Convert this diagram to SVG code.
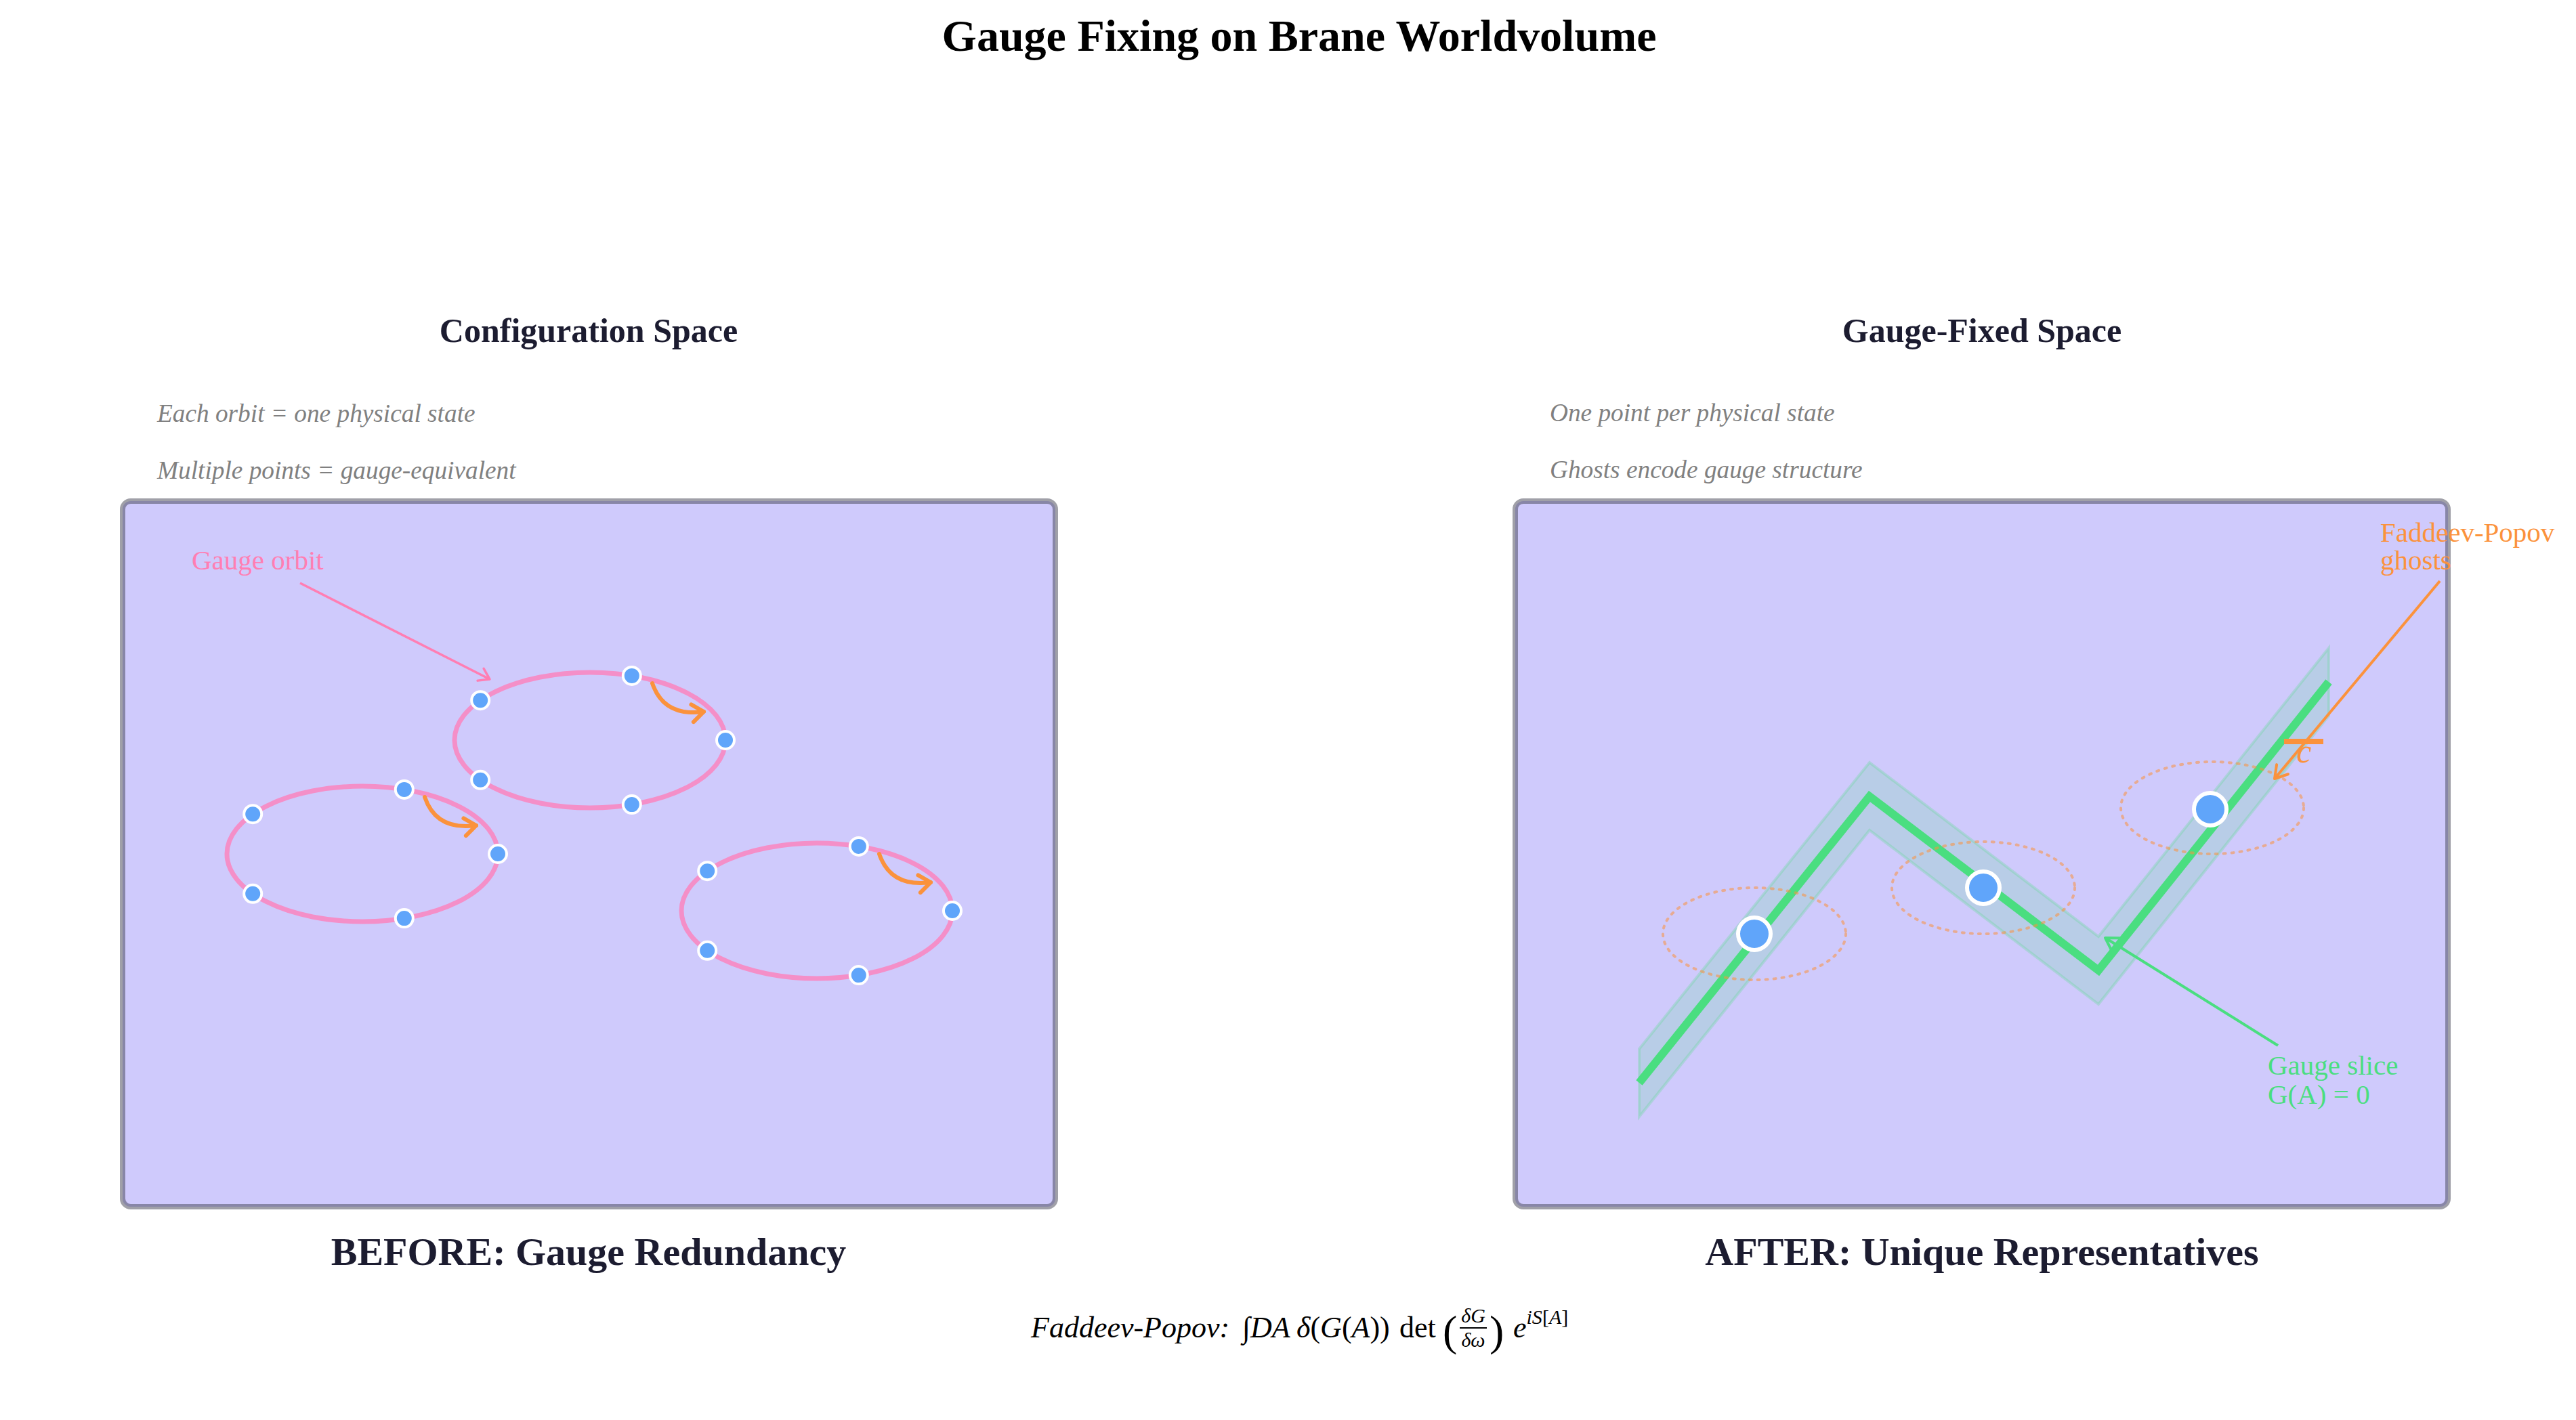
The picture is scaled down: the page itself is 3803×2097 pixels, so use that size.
<svg xmlns="http://www.w3.org/2000/svg" width="3803" height="2097" viewBox="0 0 3803 2097">
<style>
  .title{font-family:"Liberation Serif",serif;font-weight:bold;font-size:66px;fill:#000}
  .ptitle{font-family:"Liberation Serif",serif;font-weight:bold;font-size:50px;fill:#1c1c30}
  .blabel{font-family:"Liberation Serif",serif;font-weight:bold;font-size:58px;fill:#1c1c30}
  .sub{font-family:"Liberation Serif",serif;font-style:italic;font-size:37.3px;fill:#808080}
  .panel{fill:#cfcafc;stroke:#414151;stroke-opacity:0.5;stroke-width:8}
  .orbit{fill:none;stroke:#f48fc8;stroke-width:7}
  .pt{fill:#60a5fa;stroke:#fff;stroke-width:4}
  .bigpt{fill:#60a5fa;stroke:#fff;stroke-width:6}
  .flow{fill:none;stroke:#fb923c;stroke-width:6;stroke-linecap:round}
  .ghostorb{fill:none;stroke:#fb923c;stroke-opacity:0.55;stroke-width:4;stroke-dasharray:3 9;stroke-linecap:round}
  .lbl{font-family:"Liberation Serif",serif;font-size:41px}
  .math{font-family:"Liberation Serif",serif;fill:#000}
</style>
<defs>
  <marker id="ahOrange" markerUnits="userSpaceOnUse" viewBox="-22 -17 26 34" refX="0" refY="0" markerWidth="26" markerHeight="34" orient="auto">
    <path d="M-17,-13 L0,0 L-17,13" fill="none" stroke="#fb923c" stroke-width="6" stroke-linecap="round" stroke-linejoin="round"/>
  </marker>
  <marker id="ahPink" markerUnits="userSpaceOnUse" viewBox="-20 -14 24 28" refX="0" refY="0" markerWidth="24" markerHeight="28" orient="auto">
    <path d="M-15,-10 L0,0 L-15,10" fill="none" stroke="#ff7eb3" stroke-width="3.5" stroke-linecap="round" stroke-linejoin="round"/>
  </marker>
  <marker id="ahGreen" markerUnits="userSpaceOnUse" viewBox="-24 -16 28 32" refX="0" refY="0" markerWidth="28" markerHeight="32" orient="auto">
    <path d="M-18,-11 L0,0 L-18,11" fill="none" stroke="#4ade80" stroke-width="4" stroke-linecap="round" stroke-linejoin="round"/>
  </marker>
  <marker id="ahGhost" markerUnits="userSpaceOnUse" viewBox="-24 -16 28 32" refX="0" refY="0" markerWidth="28" markerHeight="32" orient="auto">
    <path d="M-18,-11 L0,0 L-18,11" fill="none" stroke="#fb923c" stroke-width="4" stroke-linecap="round" stroke-linejoin="round"/>
  </marker>
</defs>

<rect x="0" y="0" width="3803" height="2097" fill="#fff"/>

<g id="title">
  <text class="title" x="1918" y="75" text-anchor="middle">Gauge Fixing on Brane Worldvolume</text>
</g>

<!-- LEFT PANEL -->
<g id="panel-before">
  <text class="ptitle" x="869" y="505" text-anchor="middle">Configuration Space</text>
  <text class="sub" x="232" y="623">Each orbit = one physical state</text>
  <text class="sub" x="232" y="707">Multiple points = gauge-equivalent</text>
  <rect class="panel" x="181" y="740" width="1377" height="1042" rx="12" ry="12"/>
  <text class="blabel" x="869" y="1868" text-anchor="middle">BEFORE: Gauge Redundancy</text>
</g>

<g id="orbit-label">
  <text class="lbl" x="283" y="841" fill="#ff7eb3">Gauge orbit</text>
</g>

<g id="orbit-1">
  <ellipse class="orbit" cx="871" cy="1093" rx="200" ry="100"/>
  <circle class="pt" cx="1071" cy="1093" r="13"/>
  <circle class="pt" cx="932.8" cy="997.9" r="13"/>
  <circle class="pt" cx="709.2" cy="1034.2" r="13"/>
  <circle class="pt" cx="709.2" cy="1151.8" r="13"/>
  <circle class="pt" cx="932.8" cy="1188.1" r="13"/>
</g>
<g id="orbit-2">
  <ellipse class="orbit" cx="535" cy="1261" rx="200" ry="100"/>
  <circle class="pt" cx="735" cy="1261" r="13"/>
  <circle class="pt" cx="596.8" cy="1165.9" r="13"/>
  <circle class="pt" cx="373.2" cy="1202.2" r="13"/>
  <circle class="pt" cx="373.2" cy="1319.8" r="13"/>
  <circle class="pt" cx="596.8" cy="1356.1" r="13"/>
</g>
<g id="orbit-3">
  <ellipse class="orbit" cx="1206" cy="1345" rx="200" ry="100"/>
  <circle class="pt" cx="1406" cy="1345" r="13"/>
  <circle class="pt" cx="1267.8" cy="1249.9" r="13"/>
  <circle class="pt" cx="1044.2" cy="1286.2" r="13"/>
  <circle class="pt" cx="1044.2" cy="1403.8" r="13"/>
  <circle class="pt" cx="1267.8" cy="1440.1" r="13"/>
</g>

<!-- RIGHT PANEL -->
<g id="panel-after">
  <text class="ptitle" x="2926" y="505" text-anchor="middle">Gauge-Fixed Space</text>
  <text class="sub" x="2288" y="622">One point per physical state</text>
  <text class="sub" x="2288" y="706">Ghosts encode gauge structure</text>
  <rect class="panel" x="2237" y="740" width="1377" height="1042" rx="12" ry="12"/>
  <text class="blabel" x="2926" y="1868" text-anchor="middle">AFTER: Unique Representatives</text>
</g>

<g id="gauge-slice">
  <polygon points="2420,1549 2760,1126 3098,1383 3438,957 3438,1057 3098,1483 2760,1226 2420,1649" fill="#4ade80" fill-opacity="0.17" stroke="#4ade80" stroke-opacity="0.25" stroke-width="4"/>
  <polyline points="2420,1599 2760,1176 3098,1433 3438,1007" fill="none" stroke="#4ade80" stroke-width="12" stroke-linejoin="miter"/>
</g>

<g id="ghost-orbits">
  <ellipse class="ghostorb" cx="2590" cy="1379" rx="135" ry="68"/>
  <ellipse class="ghostorb" cx="2928" cy="1311" rx="135" ry="68"/>
  <ellipse class="ghostorb" cx="3266" cy="1193" rx="135" ry="68"/>
</g>

<g id="representatives">
  <circle class="bigpt" cx="2590" cy="1379" r="24"/>
  <circle class="bigpt" cx="2928" cy="1311" r="24"/>
  <circle class="bigpt" cx="3263" cy="1195" r="24"/>
</g>

<g id="ghost-symbol">
  <line x1="3372" y1="1095" x2="3430" y2="1095" stroke="#fb923c" stroke-width="8"/>
  <text x="3401" y="1126" text-anchor="middle" font-family="Liberation Serif, serif" font-style="italic" font-size="50" fill="#fb923c">c</text>
</g>

<g id="ghost-label">
  <text class="lbl" fill="#fb923c"><tspan x="3514" y="800">Faddeev-Popov</tspan><tspan x="3514" y="841">ghosts</tspan></text>
</g>

<g id="slice-label">
  <text class="lbl" fill="#4ade80"><tspan x="3348" y="1587">Gauge slice</tspan><tspan x="3348" y="1630">G(A) = 0</tspan></text>
</g>

<!-- CONNECTORS -->
<g id="connectors">
  <line x1="443" y1="861" x2="723" y2="1003" stroke="#ff7eb3" stroke-width="3.5" marker-end="url(#ahPink)"/>
  <path class="flow" d="M963,1009 Q980,1059 1039,1051" marker-end="url(#ahOrange)"/>
  <path class="flow" d="M627,1177 Q644,1227 703,1219" marker-end="url(#ahOrange)"/>
  <path class="flow" d="M1298,1261 Q1315,1311 1374,1303" marker-end="url(#ahOrange)"/>
  <line x1="3602" y1="858" x2="3358" y2="1150" stroke="#fb923c" stroke-width="4" marker-end="url(#ahGhost)"/>
  <line x1="3363" y1="1544" x2="3108" y2="1385" stroke="#4ade80" stroke-width="4" marker-end="url(#ahGreen)"/>
</g>

<!-- FORMULA -->
<g id="formula">
  <text class="math" x="1522" y="1975" style="font-size:44px;font-style:italic">Faddeev-Popov:</text>
  <text class="math" x="1834" y="1975" style="font-size:44px">∫<tspan style="font-style:italic">DA</tspan></text>
  <text class="math" x="1914" y="1975" style="font-size:44px"><tspan style="font-style:italic">δ</tspan>(<tspan style="font-style:italic">G</tspan>(<tspan style="font-style:italic">A</tspan>))</text>
  <text class="math" x="2066" y="1975" style="font-size:44px">det</text>
  <text class="math" x="2130" y="1987" style="font-size:64px">(</text>
  <text class="math" x="2175" y="1953" text-anchor="middle" style="font-size:30px;font-style:italic">δG</text>
  <line x1="2155" y1="1961" x2="2195" y2="1961" stroke="#000" stroke-width="2"/>
  <text class="math" x="2175" y="1989" text-anchor="middle" style="font-size:30px;font-style:italic">δω</text>
  <text class="math" x="2199" y="1987" style="font-size:64px">)</text>
  <text class="math" x="2234" y="1975" style="font-size:44px"><tspan style="font-style:italic">e</tspan><tspan dy="-20" style="font-size:30px"><tspan style="font-style:italic">iS</tspan>[<tspan style="font-style:italic">A</tspan>]</tspan></text>
</g>
</svg>
